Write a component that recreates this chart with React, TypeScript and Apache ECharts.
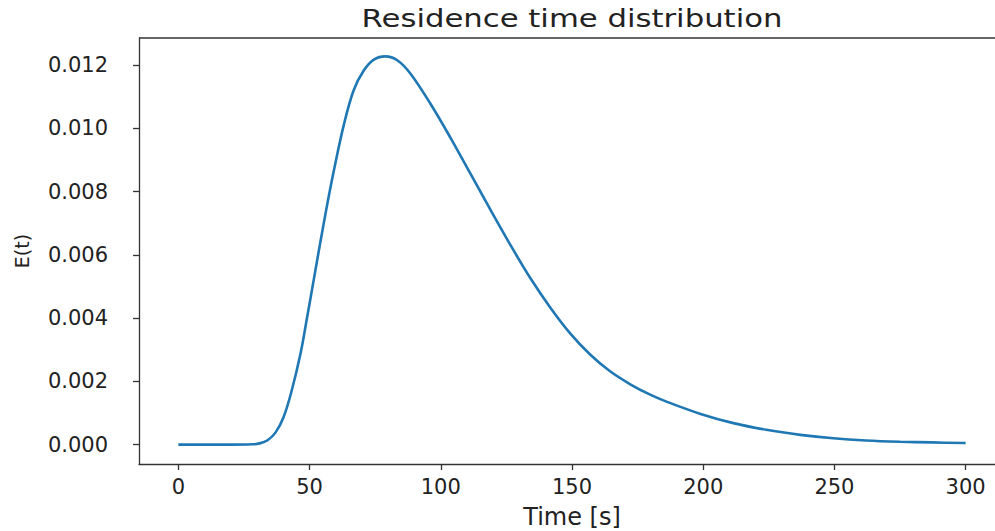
import React, { useEffect, useRef } from "react";
import * as echarts from "echarts";

const titleText = "Residence time distribution";
const xName = "Time [s]";
const yName = "E(t)";
const xTicks = [0, 50, 100, 150, 200, 250, 300];
const yTicks = [0, 0.002, 0.004, 0.006, 0.008, 0.01, 0.012];
const timeS = [
  0, 10, 20, 28, 31, 34, 37, 40, 43, 46.6, 49, 51.6, 54.2, 57, 59.2, 63, 66.8, 70.7, 74.5, 78.9, 83.4, 88.4,
  96, 103.6, 111.3, 118.9, 126.5, 134.1, 141.7, 149.3, 156.9, 164.5, 172.2, 179.8, 186, 199, 211.5, 224,
  237, 249.6, 262, 275, 287, 300,
];
const eValues = [
  0, 0, 0, 0.00001, 0.00004, 0.00014, 0.00038, 0.00085, 0.00165, 0.0029, 0.004, 0.00522, 0.00645, 0.00772,
  0.00865, 0.0101, 0.01121, 0.01184, 0.01218, 0.01228, 0.01216, 0.01174, 0.01079, 0.00972, 0.00857, 0.00743,
  0.00632, 0.00527, 0.00434, 0.00352, 0.00285, 0.00232, 0.00191, 0.00158, 0.00136, 0.00097, 0.00068, 0.00047,
  0.00031, 0.0002, 0.00013, 0.00009, 0.00007, 0.00005,
];

export default function App() {
  const ref = useRef<HTMLDivElement>(null);
  useEffect(() => {
    if (!ref.current) return;
    const chart = echarts.init(ref.current, null, { renderer: "svg" });
    const font = "DejaVu Sans";
    const txt = "#222";
    const line = "#333";
    const xMin = -15;
    const xMax = 315;
    const yMin = -0.0006125;
    const yMax = 0.0128625;
    chart.setOption({
      animation: false,
      backgroundColor: "#fff",
      grid: { left: 139, top: 38, bottom: 67, right: -10, outerBoundsMode: "none", containLabel: false },
      xAxis: {
        type: "value",
        min: xMin,
        max: xMax,
        splitLine: { show: false },
        axisLine: { show: true, onZero: false, lineStyle: { color: line, width: 1.3 } },
        axisTick: { show: true, customValues: xTicks, length: 6, lineStyle: { color: line, width: 1.3 } },
        axisLabel: { customValues: xTicks, fontFamily: font, fontSize: 21, color: txt, margin: 12 },
        name: xName,
        nameLocation: "middle",
        nameGap: 41,
        nameTextStyle: { fontFamily: font, fontSize: 24, color: txt },
      },
      yAxis: {
        type: "value",
        min: yMin,
        max: yMax,
        splitLine: { show: false },
        axisLine: { show: true, onZero: false, lineStyle: { color: line, width: 1.3 } },
        axisTick: { show: true, customValues: yTicks, length: 6, lineStyle: { color: line, width: 1.3 } },
        axisLabel: {
          customValues: yTicks,
          fontFamily: font,
          fontSize: 21,
          color: txt,
          margin: 31,
          formatter: (v: number) => v.toFixed(3),
        },
        name: yName,
        nameLocation: "middle",
        nameGap: 108,
        nameTextStyle: { fontFamily: font, fontSize: 19, color: txt },
      },
      series: [
        {
          type: "line",
          data: timeS.map((t, i) => [t, eValues[i]]),
          showSymbol: false,
          smooth: 0.35,
          lineStyle: { color: "#1f77b4", width: 2.6 },
          itemStyle: { color: "#1f77b4" },
        },
      ],
    });
    const p0 = chart.convertToPixel({ gridIndex: 0 }, [xMin, yMax]) as number[];
    const p1 = chart.convertToPixel({ gridIndex: 0 }, [xMax, yMax]) as number[];
    const w = chart.getWidth();
    chart.setOption({
      graphic: [
        {
          type: "text",
          x: (p0[0] + p1[0]) / 2,
          y: 6,
          scaleX: 1.28,
          style: {
            text: titleText,
            font: `24px '${font}'`,
            fill: txt,
            textAlign: "center",
            textVerticalAlign: "top",
          },
        },
        {
          type: "line",
          shape: { x1: p0[0], y1: p0[1], x2: Math.min(p1[0], w), y2: p1[1] },
          style: { stroke: line, lineWidth: 1.3 },
          silent: true,
        },
      ],
    });
    return () => chart.dispose();
  }, []);
  return (
    <div
      ref={ref}
      style={{ position: "fixed", left: 0, top: 0, width: 995, height: 531, background: "#fff", overflow: "hidden" }}
    />
  );
}
